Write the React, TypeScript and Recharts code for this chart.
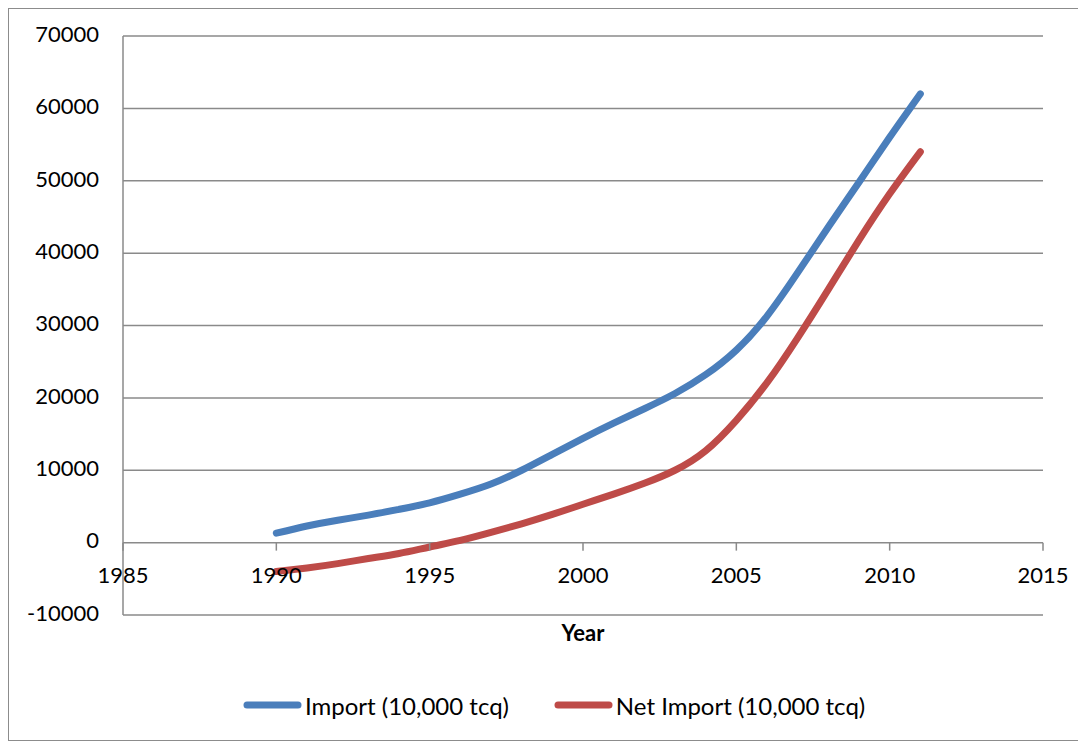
import { LineChart, Line, XAxis, YAxis, CartesianGrid, Legend } from 'recharts';

// Years and values (10,000 tcq)
const years = [1990, 1991, 1992, 1993, 1994, 1995, 1996, 1997, 1998, 1999, 2000, 2001, 2002, 2003, 2004, 2005, 2006, 2007, 2008, 2009, 2010, 2011];
const importValues = [1300, 2300, 3100, 3800, 4600, 5500, 6700, 8100, 10000, 12200, 14400, 16500, 18500, 20600, 23200, 26600, 31300, 37300, 43600, 49800, 56000, 62000];
const netImportValues = [-4000, -3500, -2900, -2200, -1500, -600, 300, 1400, 2600, 3900, 5300, 6700, 8200, 10000, 12700, 16900, 22100, 28300, 35000, 41800, 48200, 54000];

const xTicks = [1985, 1990, 1995, 2000, 2005, 2010, 2015];
const yTicks = [-10000, 0, 10000, 20000, 30000, 40000, 50000, 60000, 70000];

const SERIES = [
  { key: 'import', name: 'Import (10,000 tcq)', color: '#4A7EBB' },
  { key: 'net', name: 'Net Import (10,000 tcq)', color: '#BE4B48' },
];

const data = years.map((year, i) => ({
  year,
  import: importValues[i],
  net: netImportValues[i],
}));

const CHART_W = 1070;
const CHART_H = 731;
const MARGIN = { top: 27, right: 36, left: 0, bottom: 10 };
const XAXIS_H = 65;
const LEGEND_H = 50;
const PLOT_H = CHART_H - MARGIN.top - MARGIN.bottom - XAXIS_H - LEGEND_H;
const Y_MIN = -10000;
const Y_MAX = 70000;
// the horizontal axis crosses at y = 0, like Excel does
const ZERO_Y = MARGIN.top + PLOT_H * (Y_MAX / (Y_MAX - Y_MIN));

const GRID = '#8a8a8a';
const FONT = 'Lato, "Liberation Sans", Arial, sans-serif';

function XTick({ x, payload }: any) {
  return (
    <g>
      <line x1={x} x2={x} y1={ZERO_Y} y2={ZERO_Y + 8} stroke={GRID} strokeWidth={1.5} />
      <text x={x} y={ZERO_Y + 40} textAnchor="middle" fill="#000" fontSize={22} fontFamily={FONT}>
        {payload.value}
      </text>
    </g>
  );
}

function LegendContent() {
  return (
    <div
      style={{
        display: 'flex',
        justifyContent: 'center',
        alignItems: 'center',
        height: LEGEND_H,
        paddingLeft: 20,
        fontFamily: FONT,
        fontSize: 24,
        color: '#000',
      }}
    >
      {SERIES.map((s, i) => (
        <div key={s.key} style={{ display: 'flex', alignItems: 'center', marginLeft: i > 0 ? 45 : 0 }}>
          <svg width={59} height={10} style={{ marginRight: 3 }}>
            <line x1={4} x2={55} y1={5} y2={5} stroke={s.color} strokeWidth={7} strokeLinecap="round" />
          </svg>
          <span>{s.name}</span>
        </div>
      ))}
    </div>
  );
}

export default function App() {
  return (
    <div style={{ width: CHART_W, height: CHART_H, border: '1px solid #8c8c8c', background: '#fff' }}>
      <LineChart width={CHART_W} height={CHART_H} data={data} margin={MARGIN}>
        <CartesianGrid vertical={false} stroke={GRID} strokeWidth={1.5} />
        <XAxis
          dataKey="year"
          type="number"
          domain={[1985, 2015]}
          ticks={xTicks}
          height={XAXIS_H}
          axisLine={false}
          tickLine={false}
          tick={<XTick />}
          interval={0}
          label={{ value: 'Year', position: 'insideTop', offset: 10, fill: '#000', fontSize: 22, fontWeight: 'bold', fontFamily: FONT }}
        />
        <YAxis
          domain={[Y_MIN, Y_MAX]}
          ticks={yTicks}
          width={114}
          interval={0}
          axisLine={{ stroke: GRID, strokeWidth: 1.5 }}
          tickLine={false}
          tickSize={0}
          tickMargin={24}
          tick={{ fill: '#000', fontSize: 22, fontFamily: FONT, dy: -2 }}
        />
        <Legend verticalAlign="bottom" height={LEGEND_H} wrapperStyle={{ left: 0, width: CHART_W }} content={<LegendContent />} />
        {SERIES.map((s) => (
          <Line
            key={s.key}
            dataKey={s.key}
            name={s.name}
            type="natural"
            stroke={s.color}
            strokeWidth={7}
            strokeLinecap="round"
            dot={false}
            isAnimationActive={false}
          />
        ))}
      </LineChart>
    </div>
  );
}
